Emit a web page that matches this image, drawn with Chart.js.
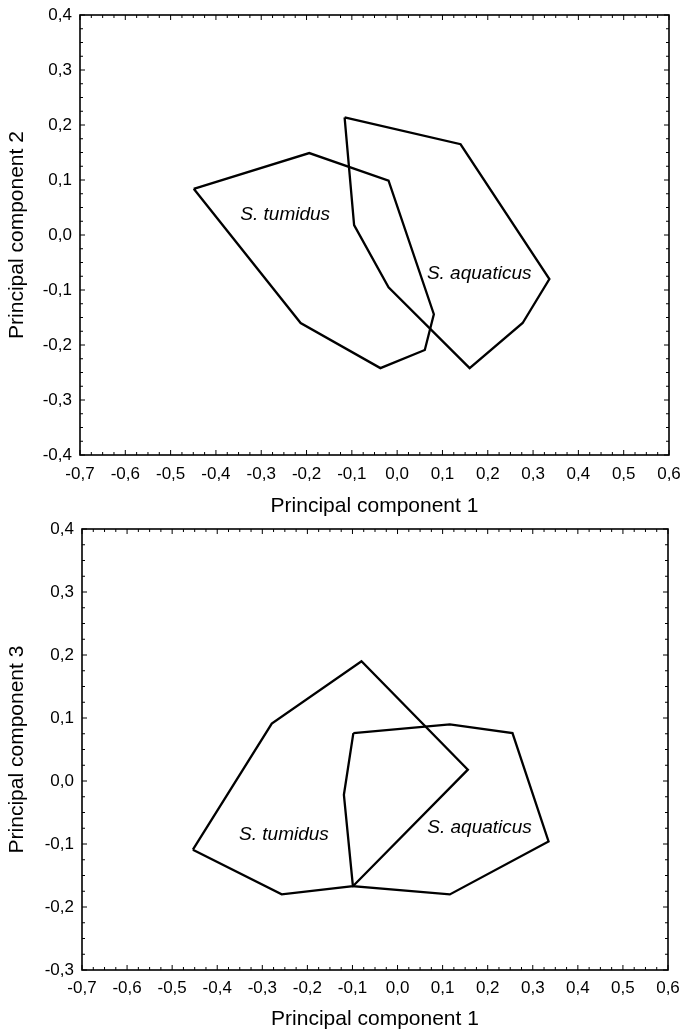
<!DOCTYPE html>
<html>
<head>
<meta charset="utf-8">
<script src="https://cdn.jsdelivr.net/npm/chart.js@4/dist/chart.umd.min.js"></script>
<style>
  body { margin: 0; background: #fff; }
  .box { position: absolute; left: 0; width: 681px; }
</style>
</head>
<body>
<div class="box" style="top:0;height:519px"><canvas id="pc12"></canvas></div>
<div class="box" style="top:519px;height:513px"><canvas id="pc13"></canvas></div>
<script>
// PC1 vs PC2 (upper panel)
const tumidusPc1a = [-0.449, -0.194, -0.019, 0.081, 0.061, -0.037, -0.213];
const tumidusPc2 = [0.084, 0.149, 0.099, -0.144, -0.209, -0.242, -0.160];
const aquaticusPc1a = [-0.116, 0.140, 0.336, 0.277, 0.160, -0.019, -0.095];
const aquaticusPc2 = [0.214, 0.165, -0.080, -0.160, -0.242, -0.095, 0.018];

// PC1 vs PC3 (lower panel)
const tumidusPc1b = [-0.454, -0.279, -0.080, 0.156, -0.099, -0.257];
const tumidusPc3 = [-0.109, 0.091, 0.190, 0.018, -0.167, -0.180];
const aquaticusPc1b = [-0.098, 0.116, 0.255, 0.335, 0.116, -0.099, -0.119];
const aquaticusPc3 = [0.076, 0.090, 0.076, -0.096, -0.180, -0.167, -0.022];

const speciesNames = ['S. tumidus', 'S. aquaticus'];
// where the names sit, in data units
const namePc1a = [-0.247, 0.181];
const namePc2 = [0.036, -0.071];
const namePc1b = [-0.252, 0.182];
const namePc3 = [-0.086, -0.074];

const xTicksRange = [-0.7, 0.6];
const yRangeTop = [-0.4, 0.4];
const yRangeBottom = [-0.3, 0.4];

Chart.defaults.color = '#000';
Chart.defaults.font.family = '"Liberation Sans", Arial, sans-serif';

function fmt(v) {
  if (Math.abs(v) < 1e-9) return '0,0';
  return v.toFixed(1).replace('.', ',');
}

// closed outline from x/y lists
function outline(xs, ys) {
  const pts = xs.map((x, i) => ({ x: x, y: ys[i] }));
  pts.push(pts[0]);
  return pts;
}

// no extra room for overhanging tick labels, keep plot box where we put it
function noOverhang(s) {
  s.paddingLeft = 0; s.paddingRight = 0; s.paddingTop = 0; s.paddingBottom = 0;
}

// frame + inward ticks on all four sides, species names
const framePlugin = {
  id: 'frame',
  afterDraw(chart, args, opts) {
    const ctx = chart.ctx;
    const a = chart.chartArea;
    const xs = chart.scales.x, ys = chart.scales.y;
    ctx.save();
    ctx.strokeStyle = '#000';
    ctx.lineWidth = 1.6;
    ctx.strokeRect(a.left, a.top, a.right - a.left, a.bottom - a.top);
    ctx.lineWidth = 1;
    ctx.beginPath();
    for (let v = xs.min; v <= xs.max + 1e-9; v += 0.025) {
      const px = xs.getPixelForValue(v);
      const major = Math.abs(v * 10 - Math.round(v * 10)) < 1e-6;
      const len = major ? 5 : 3;
      ctx.moveTo(px, a.bottom); ctx.lineTo(px, a.bottom - len);
      ctx.moveTo(px, a.top); ctx.lineTo(px, a.top + len);
    }
    for (let v = ys.min; v <= ys.max + 1e-9; v += 0.025) {
      const py = ys.getPixelForValue(v);
      const major = Math.abs(v * 10 - Math.round(v * 10)) < 1e-6;
      const len = major ? 5 : 3;
      ctx.moveTo(a.left, py); ctx.lineTo(a.left + len, py);
      ctx.moveTo(a.right, py); ctx.lineTo(a.right - len, py);
    }
    ctx.stroke();

    ctx.fillStyle = '#000';
    ctx.font = 'italic 19px "Liberation Sans", Arial, sans-serif';
    ctx.textAlign = 'center';
    ctx.textBaseline = 'middle';
    opts.names.forEach((n, i) => {
      ctx.fillText(n, xs.getPixelForValue(opts.nx[i]), ys.getPixelForValue(opts.ny[i]));
    });
    ctx.restore();
  }
};

function makeChart(id, tX, tY, aX, aY, yRange, yTitle, nx, ny, pad, yWidth, xHeight, tickPad) {
  return new Chart(document.getElementById(id).getContext('2d'), {
    type: 'scatter',
    data: {
      datasets: [
        { label: speciesNames[0], data: outline(tX, tY) },
        { label: speciesNames[1], data: outline(aX, aY) }
      ]
    },
    options: {
      responsive: true,
      maintainAspectRatio: false,
      animation: false,
      devicePixelRatio: 1,
      layout: { padding: pad },
      elements: {
        line: { borderColor: '#000', borderWidth: 2.3, tension: 0, fill: false },
        point: { radius: 0, hoverRadius: 0 }
      },
      datasets: { scatter: { showLine: true, borderColor: '#000', borderWidth: 2.3, pointRadius: 0 } },
      plugins: {
        legend: { display: false },
        tooltip: { enabled: false },
        frame: { names: speciesNames, nx: nx, ny: ny }
      },
      scales: {
        x: {
          type: 'linear',
          min: xTicksRange[0],
          max: xTicksRange[1],
          grid: { display: false, drawTicks: false },
          border: { display: false },
          ticks: { stepSize: 0.1, padding: tickPad, maxRotation: 0, autoSkip: false,
                   font: { size: 17 }, callback: v => fmt(v) },
          title: { display: true, text: 'Principal component 1', font: { size: 21 }, padding: 0 },
          afterFit: s => { s.height = xHeight; noOverhang(s); }
        },
        y: {
          type: 'linear',
          min: yRange[0],
          max: yRange[1],
          grid: { display: false, drawTicks: false },
          border: { display: false },
          ticks: { stepSize: 0.1, padding: 8, font: { size: 17 }, callback: v => fmt(v) },
          title: { display: true, text: yTitle, font: { size: 21 }, padding: 0 },
          afterFit: s => { s.width = yWidth; noOverhang(s); }
        }
      }
    },
    plugins: [framePlugin]
  });
}

makeChart('pc12', tumidusPc1a, tumidusPc2, aquaticusPc1a, aquaticusPc2, yRangeTop,
  'Principal component 2', namePc1a, namePc2,
  { left: 5, right: 12, top: 15, bottom: 0 }, 75, 64, 9);

makeChart('pc13', tumidusPc1b, tumidusPc3, aquaticusPc1b, aquaticusPc3, yRangeBottom,
  'Principal component 3', namePc1b, namePc3,
  { left: 5, right: 13, top: 10, bottom: 0 }, 77, 62, 8);
</script>
</body>
</html>
